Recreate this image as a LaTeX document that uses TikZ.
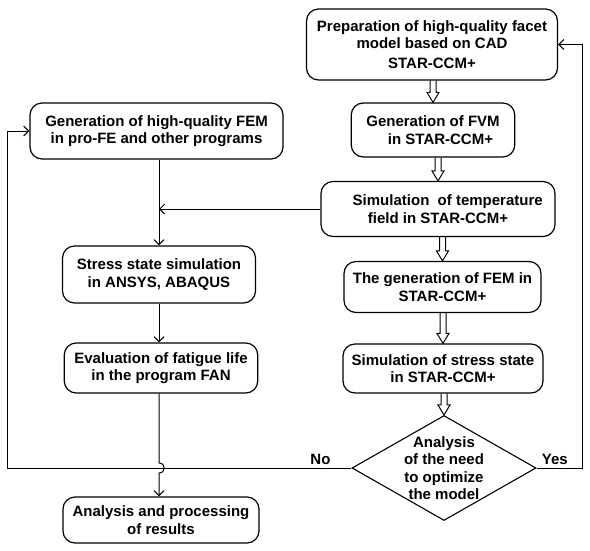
\documentclass[tikz,border=0pt]{standalone}
\usepackage{fontspec}
\setmainfont{Liberation Sans}
\usetikzlibrary{shapes.geometric, arrows.meta, calc}

\newcommand{\boxfont}{\fontsize{15pt}{17.5pt}\selectfont\bfseries}

% hollow block arrow from the bottom of #1 down to the top of #2
\newcommand{\hollowarrow}[2]{%
	\draw [blockarrow] ($(#1.south -| #2.north) + (-3, 0)$) -- ($(#2.north) + (-3, -10)$) -- ($(#2.north) + (-6, -10)$) -- (#2.north) -- ($(#2.north) + (6, -10)$) -- ($(#2.north) + (3, -10)$) -- ($(#1.south -| #2.north) + (3, 0)$);%
}

\begin{document}
\begin{tikzpicture}[x = 1pt, y = -1pt,
	box/.style = {draw, rounded corners = 12pt, line width = 1.2pt, align = center, font = \boxfont, inner sep = 2pt},
	decision/.style = {draw, diamond, line width = 1.1pt, minimum width = 184pt, minimum height = 105pt, inner sep = 0pt},
	flow/.style = {line width = 1pt, -{Straight Barb[length = 5pt, width = 10pt]}},
	blockarrow/.style = {line width = 1pt, line join = miter}]

	\useasboundingbox (0, 0) rectangle (590, 550);

	% Right column: STAR-CCM+ chain

	\node [box, minimum width = 251pt, minimum height = 71pt] (prep) at (432, 44.5) {Preparation of high-quality facet\\model based on CAD\\[2pt]STAR-CCM+};
	\node [box, minimum width = 163.5pt, minimum height = 54pt] (fvm) at (433, 130) {Generation of FVM\\\hspace*{1em}in STAR-CCM+};
	\node [box, minimum width = 234pt, minimum height = 55pt] (temp) at (438, 209) {\hspace*{1.3em}Simulation\ \ of temperature\\field in STAR-CCM+};
	\node [box, minimum width = 197pt, minimum height = 51pt] (gfem) at (442.5, 287) {The generation of FEM in\\STAR-CCM+};
	\node [box, minimum width = 200pt, minimum height = 49pt] (sss) at (443, 368.5) {Simulation of stress state\\in STAR-CCM+};
	\node [decision, label = {[font = \boxfont, align = center]center:{Analysis\\of the need\\to optimize\\the model}}] (opt) at (444, 468) {};

	% Left column: FEM programs

	\node [box, minimum width = 253pt, minimum height = 56pt] (hqfem) at (156.5, 131) {Generation of high-quality FEM\\in pro-FE and other programs};
	\node [box, minimum width = 193pt, minimum height = 57pt] (ssim) at (159, 274.5) {Stress state simulation\\in ANSYS, ABAQUS};
	\node [box, minimum width = 193.5pt, minimum height = 50pt] (fat) at (161, 368) {Evaluation of fatigue life\\in the program FAN};
	\node [box, minimum width = 196pt, minimum height = 46pt] (res) at (161, 520) {Analysis and processing\\of results};

	% Block arrows

	\hollowarrow{prep}{fvm}
	\hollowarrow{fvm}{temp}
	\hollowarrow{temp}{gfem}
	\hollowarrow{gfem}{sss}
	\hollowarrow{sss}{opt}

	% Thin connectors

	\draw [flow] (hqfem.south -| ssim.north) -- (ssim.north);
	\draw [flow] (temp.west) -- (temp.west -| ssim.north);
	\draw [flow] (ssim.south) -- (ssim.south |- fat.north);
	\draw [flow] (fat.south -| ssim.south) -- ($(opt.west -| ssim.south) + (0, -5)$) .. controls +(7, 0) and +(7, 0) .. ($(opt.west -| ssim.south) + (0, 5)$) -- (res.north -| ssim.south);

	% Feedback loops

	\draw [flow] (opt.west) -| node [pos = 0.045, above, font = \boxfont, inner sep = 3pt] {No} ([xshift = -22pt]hqfem.west) -- (hqfem.west);
	\draw [flow] (opt.east) -| node [pos = 0.2, above, font = \boxfont, inner sep = 3pt] {Yes} ([xshift = 24pt]prep.east) -- (prep.east);

\end{tikzpicture}
\end{document}
